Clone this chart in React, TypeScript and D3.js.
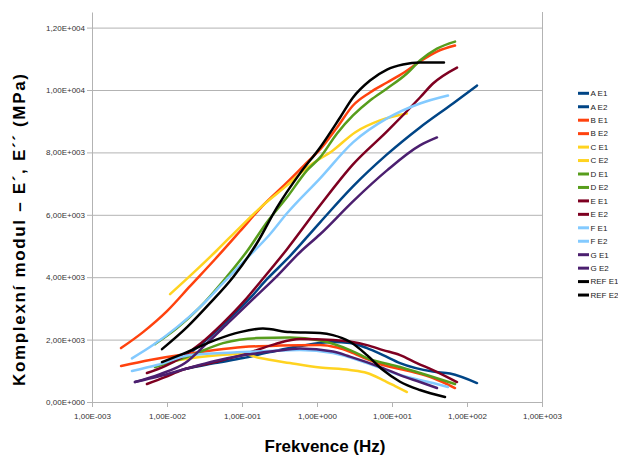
import React, { useEffect, useRef } from 'react';
import * as d3 from 'd3';

type Pt = [number, number];

// [frequency Hz, modulus MPa]
const aE1: Pt[] = [[0.0174, 1440], [0.0321, 1952], [0.0692, 2688], [0.128, 3328], [0.215, 3936], [0.398, 4576], [1.1, 5760], [3.02, 6912], [8.58, 7936], [23.6, 8800], [65, 9568], [136, 10144]];
const aE2: Pt[] = [[0.0174, 1056], [0.0437, 1248], [0.103, 1408], [0.236, 1600], [0.593, 1792], [1.63, 1920], [2.75, 1888], [4.64, 1728], [7.59, 1504], [12.8, 1248], [35.2, 976], [59.3, 912], [136, 608]];
const bE1: Pt[] = [[0.00244, 1728], [0.00479, 2240], [0.01, 2912], [0.0203, 3712], [0.0437, 4576], [0.094, 5472], [0.185, 6272], [0.386, 7008], [0.736, 7680], [1.1, 8096], [1.85, 8800], [3.02, 9504], [5.09, 9920], [8.58, 10240], [14.5, 10560], [23.6, 10912], [39.8, 11232], [69.2, 11424]];
const bE2: Pt[] = [[0.00244, 1152], [0.00593, 1344], [0.0183, 1536], [0.0437, 1664], [0.103, 1760], [0.321, 1808], [1.1, 1824], [1.85, 1744], [2.75, 1610], [4.64, 1376], [7.59, 1184], [12.8, 1056], [21.5, 928], [35.2, 768], [69.2, 448]];
const cE1: Pt[] = [[0.011, 3456], [0.0222, 4128], [0.0464, 4864], [0.094, 5600], [0.19, 6304], [0.398, 6944], [0.807, 7584], [1.63, 8064], [3.21, 8640], [6.92, 9024], [15.8, 9248]];
const cE2: Pt[] = [[0.011, 1296], [0.0275, 1440], [0.103, 1536], [0.174, 1408], [0.436, 1248], [1.1, 1104], [2.75, 1024], [4.64, 928], [7.59, 704], [11, 512], [15.8, 320]];
const dE1: Pt[] = [[0.00692, 1856], [0.0136, 2368], [0.0275, 3040], [0.0558, 3872], [0.1166, 4832], [0.215, 5760], [0.398, 6560], [0.736, 7424], [1.1, 7840], [1.85, 8608], [3.02, 9184], [5.09, 9664], [8.58, 10048], [15.8, 10528], [23.6, 10944], [39.8, 11328], [69.2, 11552]];
const dE2: Pt[] = [[0.00692, 1120], [0.0185, 1440], [0.0558, 1888], [0.158, 2048], [0.436, 2064], [1.1, 1968], [2.75, 1664], [4.64, 1408], [12.8, 1120], [35.2, 800], [69.2, 576]];
const eE1: Pt[] = [[0.0054, 928], [0.0094, 1152], [0.0158, 1440], [0.0275, 1856], [0.054, 2496], [0.1096, 3264], [0.174, 3840], [0.398, 4896], [1.1, 6304], [3.02, 7616], [8.58, 8672], [23.6, 9760], [35.2, 10208], [73.6, 10720]];
const eE2: Pt[] = [[0.0054, 576], [0.0094, 800], [0.0158, 1024], [0.0437, 1280], [0.1096, 1536], [0.275, 1856], [0.593, 2016], [1.63, 1984], [4.64, 1824], [7.59, 1664], [12.8, 1504], [21.5, 1248], [35.2, 1024], [73.6, 640]];
const fE1: Pt[] = [[0.00341, 1398], [0.0065, 1824], [0.0136, 2400], [0.0275, 3040], [0.0558, 3808], [0.1166, 4608], [0.236, 5376], [0.398, 6048], [1.1, 7168], [3.02, 8320], [8.58, 9088], [23.6, 9568], [55.8, 9824]];
const fE2: Pt[] = [[0.00341, 992], [0.00736, 1184], [0.0203, 1504], [0.103, 1600], [0.321, 1648], [0.593, 1664], [1.63, 1568], [4.64, 1248], [12.8, 864], [35.2, 608], [55.8, 480]];
const gE1: Pt[] = [[0.00374, 640], [0.00807, 896], [0.0174, 1248], [0.0321, 1824], [0.0692, 2592], [0.14, 3296], [0.275, 3968], [0.593, 4800], [1.1, 5376], [3.02, 6432], [8.58, 7424], [23.6, 8224], [39.8, 8480]];
const gE2: Pt[] = [[0.00374, 640], [0.00807, 832], [0.0174, 1056], [0.0437, 1312], [0.1096, 1504], [0.275, 1632], [0.593, 1712], [1.63, 1616], [2.75, 1456], [7.59, 1088], [12.8, 864], [23.6, 640], [39.8, 448]];
const refE1: Pt[] = [[0.00858, 1696], [0.0185, 2400], [0.0374, 3168], [0.0759, 4000], [0.158, 5088], [0.293, 6240], [0.593, 7328], [1.1, 8160], [2.03, 9120], [3.02, 9760], [5.09, 10304], [8.58, 10656], [14, 10816], [23.6, 10880], [49.3, 10880]];
const refE2: Pt[] = [[0.00858, 1280], [0.0185, 1600], [0.0437, 1984], [0.094, 2240], [0.19, 2352], [0.436, 2240], [1.1, 2208], [1.63, 2144], [2.75, 1930], [4.64, 1504], [7.59, 1024], [12.8, 650], [23.6, 384], [50.9, 160]];

const seriesNames = ['A E1', 'A E2', 'B E1', 'B E2', 'C E1', 'C E2', 'D E1', 'D E2', 'E E1', 'E E2', 'F E1', 'F E2', 'G E1', 'G E2', 'REF E1', 'REF E2'];
const seriesData = [aE1, aE2, bE1, bE2, cE1, cE2, dE1, dE2, eE1, eE2, fE1, fE2, gE1, gE2, refE1, refE2];
const sampleColors = ['#004586', '#ff420e', '#ffd320', '#579d1c', '#7e0021', '#83caff', '#4b1f6f', '#000000'];

const xTicks = [1e-3, 1e-2, 1e-1, 1, 10, 100, 1000];
const yTicks = [0, 2000, 4000, 6000, 8000, 10000, 12000];

const FONT = '"Liberation Sans", Arial, sans-serif';
const GRID = '#b3b3b3';

// 1,20E+004 style labels
const sci = (v: number) => {
  if (v === 0) return '0,00E+000';
  const e = Math.floor(Math.log10(v) + 1e-9);
  const m = v / Math.pow(10, e);
  return `${m.toFixed(2).replace('.', ',')}E${e < 0 ? '-' : '+'}${String(Math.abs(e)).padStart(3, '0')}`;
};

function App() {
  const chartRef = useRef<SVGSVGElement>(null);

  useEffect(() => {
    document.body.style.margin = '0';
    const svg = d3.select(chartRef.current);
    svg.selectAll('*').remove();

    const left = 92, right = 542, top = 12, bottom = 402;

    const x = d3.scaleLog().domain([1e-3, 1e3]).range([left, right]);
    const y = d3.scaleLinear().domain([0, 12500]).range([bottom, top]);

    // horizontal grid
    svg.append('g')
      .selectAll('line')
      .data(yTicks.filter(d => d > 0))
      .join('line')
      .attr('x1', left + 0.5)
      .attr('x2', right + 0.5)
      .attr('y1', d => y(d) + 0.5)
      .attr('y2', d => y(d) + 0.5)
      .attr('stroke', GRID)
      .attr('stroke-width', 1);

    // right border
    svg.append('line')
      .attr('x1', right + 0.5).attr('x2', right + 0.5)
      .attr('y1', top).attr('y2', bottom + 0.5)
      .attr('stroke', GRID);

    // y axis
    const yAxis = svg.append('g')
      .attr('transform', `translate(${left},0)`)
      .call(d3.axisLeft(y).tickValues(yTicks).tickFormat(d => sci(+d)).tickSize(5).tickSizeOuter(0).tickPadding(2));

    // x axis
    const xAxis = svg.append('g')
      .attr('transform', `translate(0,${bottom})`)
      .call(d3.axisBottom(x).tickValues(xTicks).tickFormat(d => sci(+d)).tickSize(5).tickSizeOuter(0).tickPadding(6));

    [yAxis, xAxis].forEach(g => {
      g.select('.domain').attr('stroke', GRID);
      g.selectAll('.tick line').attr('stroke', GRID);
      g.selectAll('.tick text')
        .attr('fill', '#333')
        .attr('font-size', 8)
        .attr('font-family', FONT);
    });

    // the series
    const line = d3.line<Pt>()
      .x(d => x(d[0]))
      .y(d => y(d[1]))
      .curve(d3.curveMonotoneX);

    svg.append('g')
      .selectAll('path')
      .data(seriesData)
      .join('path')
      .attr('fill', 'none')
      .attr('stroke', (_, i) => sampleColors[Math.floor(i / 2)])
      .attr('stroke-width', 2.5)
      .attr('stroke-linejoin', 'round')
      .attr('stroke-linecap', 'round')
      .attr('d', d => line(d));

    // legend
    const legend = svg.append('g')
      .selectAll('g')
      .data(seriesNames)
      .join('g')
      .attr('transform', (_, i) => `translate(578,${93.3 + i * 13.45})`);

    legend.append('line')
      .attr('x1', 0).attr('x2', 11)
      .attr('stroke', (_, i) => sampleColors[Math.floor(i / 2)])
      .attr('stroke-width', 3);

    legend.append('text')
      .attr('x', 12.5)
      .attr('dy', '0.35em')
      .attr('font-size', 8)
      .attr('font-family', FONT)
      .attr('fill', '#222')
      .text(d => d);

    // titles
    svg.append('text')
      .attr('transform', 'translate(25,230) rotate(-90)')
      .attr('text-anchor', 'middle')
      .attr('font-family', FONT)
      .attr('font-weight', 'bold')
      .attr('font-size', 17)
      .attr('textLength', 312)
      .attr('lengthAdjust', 'spacing')
      .text('Komplexní modul – E´, E´´ (MPa)');

    svg.append('text')
      .attr('x', 325)
      .attr('y', 452)
      .attr('text-anchor', 'middle')
      .attr('font-family', FONT)
      .attr('font-weight', 'bold')
      .attr('font-size', 17)
      .text('Frekvence (Hz)');
  }, []);

  return <svg ref={chartRef} width="618" height="457" style={{ display: 'block', background: '#fff' }}></svg>;
}

export default App;
